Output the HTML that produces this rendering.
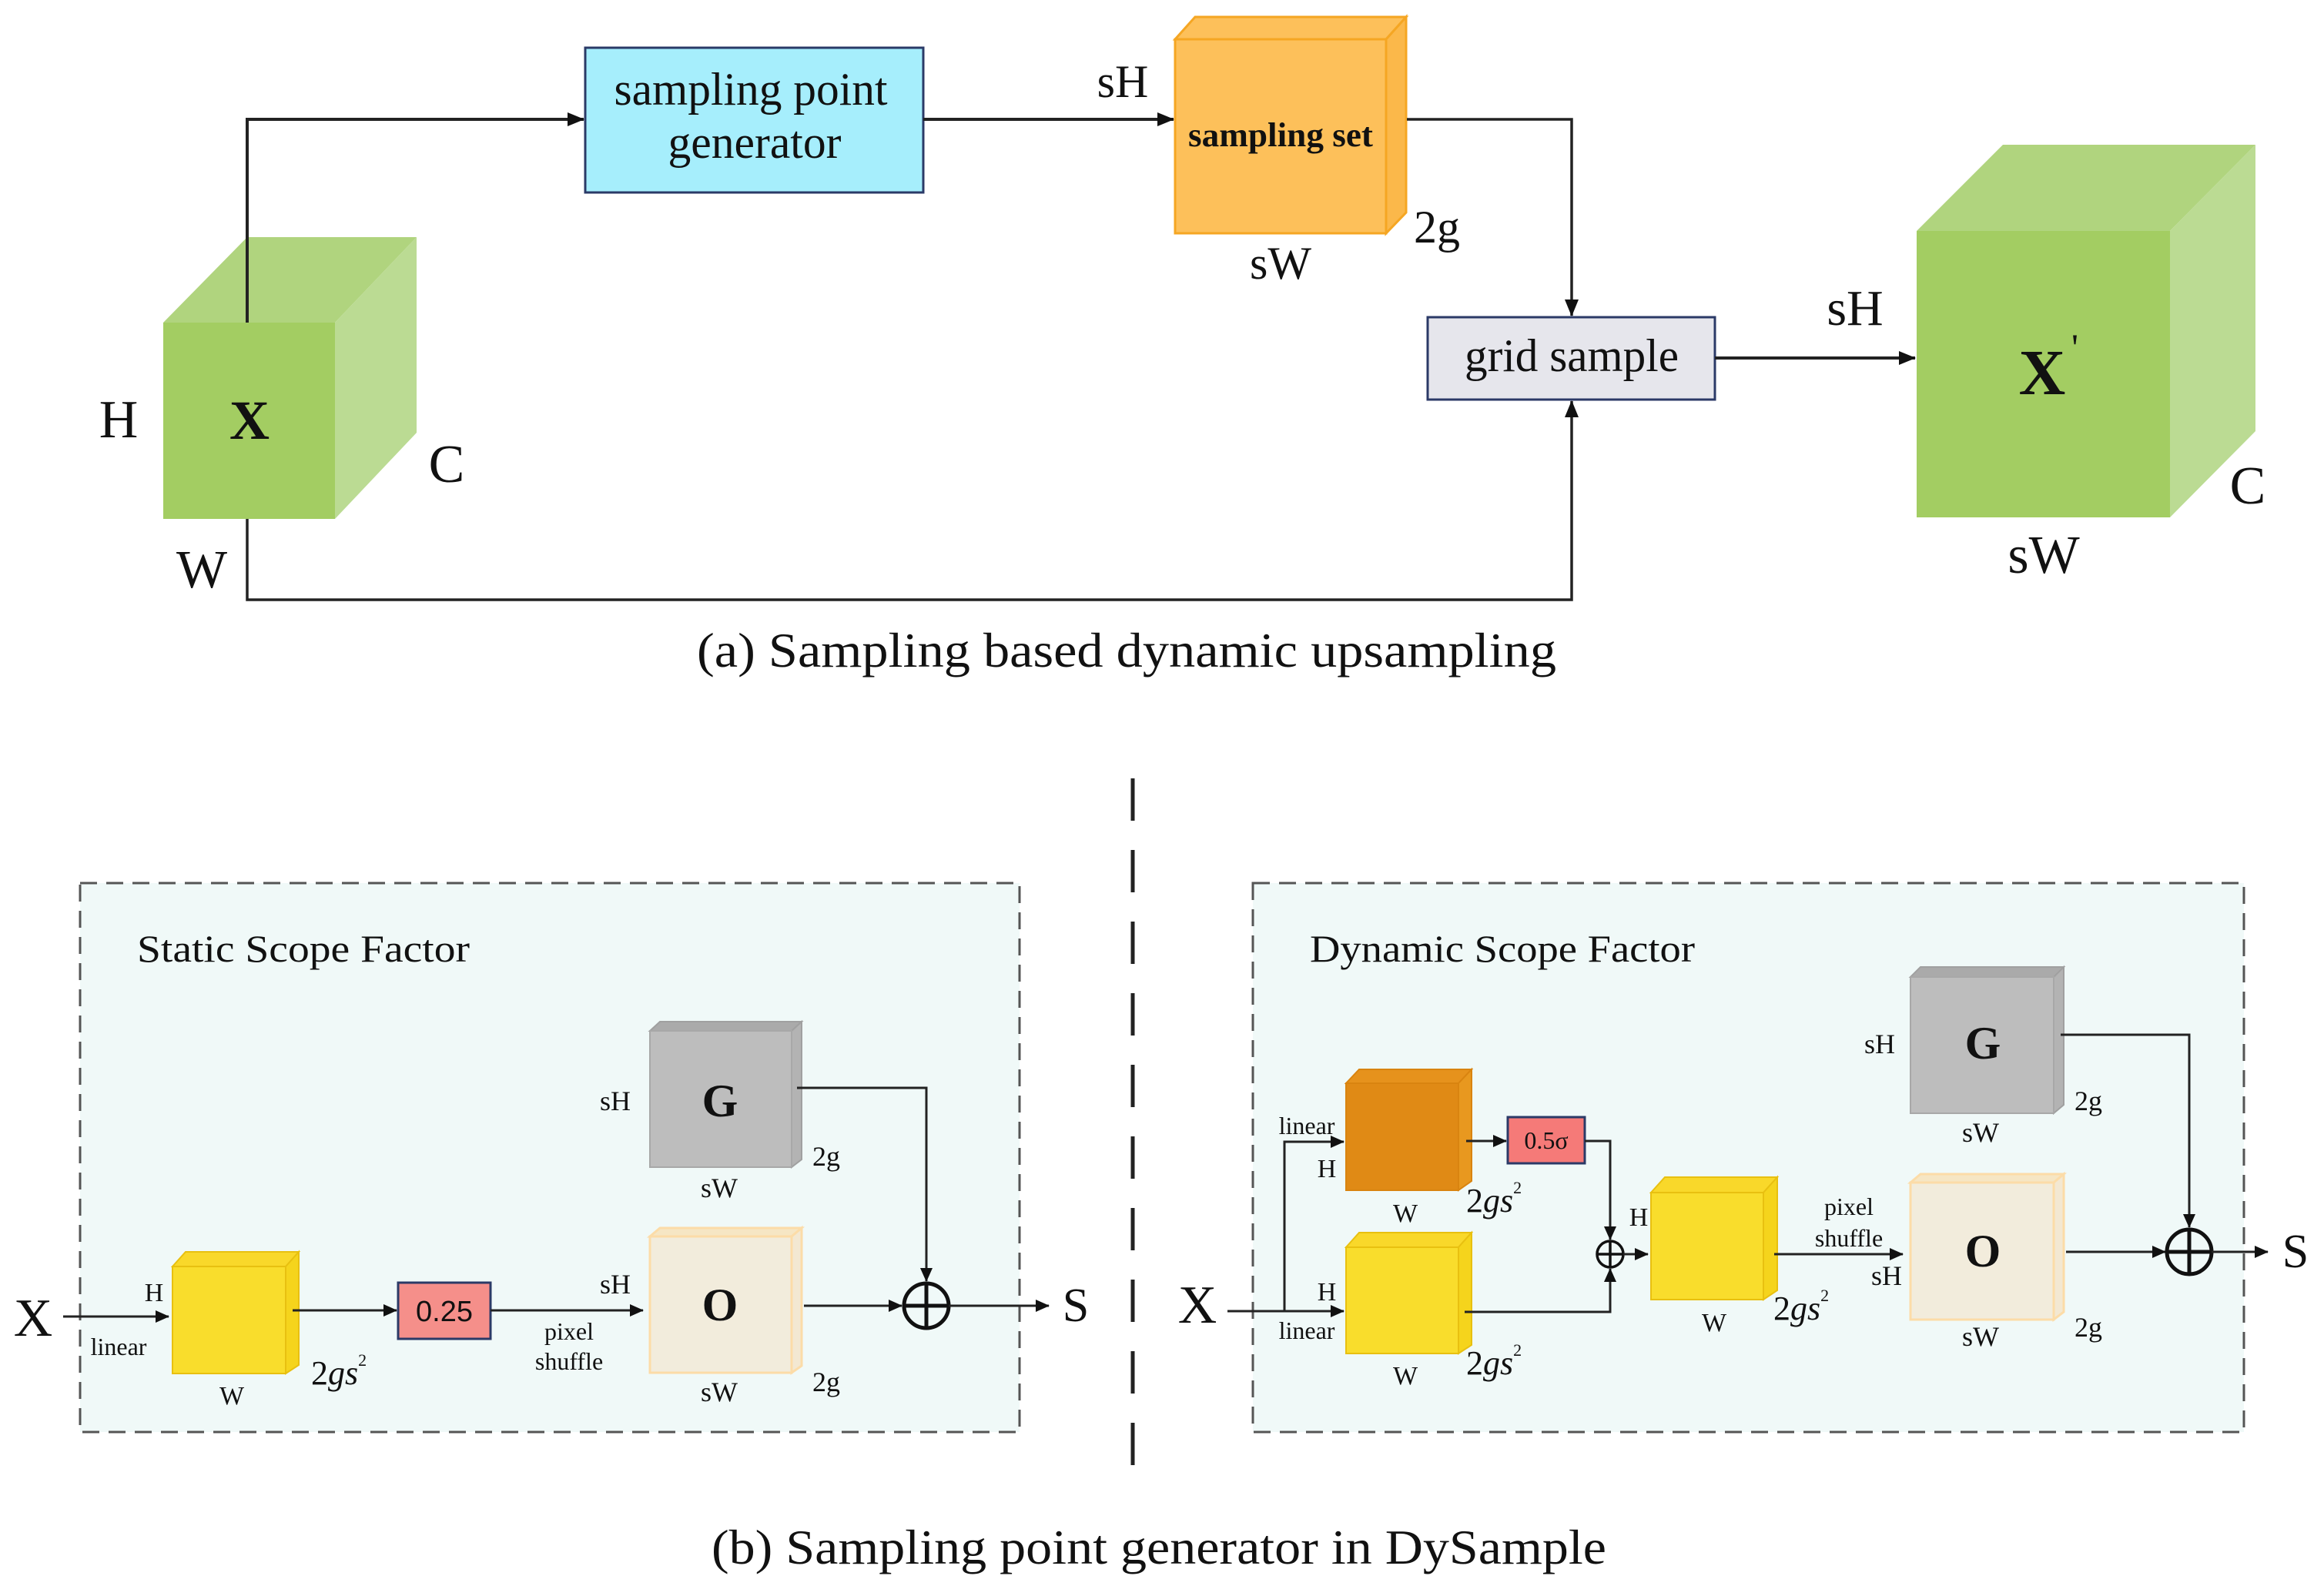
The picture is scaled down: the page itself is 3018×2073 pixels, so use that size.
<!DOCTYPE html>
<html><head><meta charset="utf-8"><style>
html,body{margin:0;padding:0;background:#fff;}
svg{display:block;}
text{font-family:"Liberation Serif",serif;fill:#111;}
</style></head><body>
<svg width="3018" height="2073" viewBox="0 0 3018 2073" xmlns="http://www.w3.org/2000/svg">
<defs>
<marker id="ah2" markerWidth="22" markerHeight="18" refX="21" refY="9" orient="auto" markerUnits="userSpaceOnUse" viewBox="0 0 22 18"><path d="M0,0 L22,9 L0,18 z" fill="#111"/></marker>
<marker id="ah3" markerWidth="18" markerHeight="16" refX="17" refY="8" orient="auto" markerUnits="userSpaceOnUse" viewBox="0 0 18 16"><path d="M0,0 L18,8 L0,16 z" fill="#111"/></marker>
</defs>

<!-- ===== (a) ===== -->
<polygon points="212,419 321,308 541,308 435,419" fill="#b0d47e"/>
<polygon points="435,419 541,308 541,562 435,674" fill="#bbdb93"/>
<rect x="212" y="419" width="223" height="255" fill="#a3cd62"/>
<text x="324" y="570" font-size="72" font-weight="bold" text-anchor="middle">X</text>
<text x="154" y="568" font-size="70" text-anchor="middle">H</text>
<text x="580" y="626" font-size="70" text-anchor="middle">C</text>
<text x="262" y="763" font-size="70" text-anchor="middle">W</text>

<polyline points="321,419 321,155 758,155" fill="none" stroke="#222" stroke-width="4" marker-end="url(#ah2)"/>
<polyline points="321,674 321,779 2041,779 2041,521" fill="none" stroke="#222" stroke-width="3.5" marker-end="url(#ah2)"/>

<rect x="760" y="62" width="439" height="188" fill="#a6eefc" stroke="#2b3a67" stroke-width="3"/>
<text x="975" y="136" font-size="60" text-anchor="middle" textLength="355" lengthAdjust="spacingAndGlyphs">sampling point</text>
<text x="980" y="205" font-size="60" text-anchor="middle" textLength="225" lengthAdjust="spacingAndGlyphs">generator</text>

<line x1="1199" y1="155" x2="1524" y2="155" stroke="#222" stroke-width="4" marker-end="url(#ah2)"/>
<text x="1458" y="126" font-size="60" text-anchor="middle">sH</text>

<polygon points="1526,51 1552,22 1826,22 1800,51" fill="#fdc05a" stroke="#f5a623" stroke-width="3"/>
<polygon points="1800,51 1826,22 1826,276 1800,303" fill="#fbb84a" stroke="#f5a623" stroke-width="3"/>
<rect x="1526" y="51" width="274" height="252" fill="#fdc05a" stroke="#f5a623" stroke-width="3"/>
<text x="1663" y="190" font-size="44" font-weight="bold" text-anchor="middle" textLength="240" lengthAdjust="spacingAndGlyphs">sampling set</text>
<text x="1866" y="315" font-size="60" text-anchor="middle">2g</text>
<text x="1663" y="362" font-size="60" text-anchor="middle">sW</text>

<polyline points="1827,155 2041,155 2041,410" fill="none" stroke="#222" stroke-width="3.5" marker-end="url(#ah2)"/>

<rect x="1854" y="412" width="373" height="107" fill="#e6e6ec" stroke="#2b3a67" stroke-width="3"/>
<text x="2041" y="482" font-size="60" text-anchor="middle" textLength="278" lengthAdjust="spacingAndGlyphs">grid sample</text>

<line x1="2227" y1="465" x2="2487" y2="465" stroke="#222" stroke-width="4" marker-end="url(#ah2)"/>
<text x="2409" y="422" font-size="66" text-anchor="middle">sH</text>

<polygon points="2489,300 2601,188 2929,188 2818,300" fill="#b0d47e"/>
<polygon points="2818,300 2929,188 2929,560 2818,672" fill="#bbdb93"/>
<rect x="2489" y="300" width="329" height="372" fill="#a3cd62"/>
<text x="2652" y="512" font-size="84" font-weight="bold" text-anchor="middle">X</text>
<text x="2690" y="468" font-size="50">'</text>
<text x="2919" y="654" font-size="70" text-anchor="middle">C</text>
<text x="2654" y="744" font-size="70" text-anchor="middle">sW</text>

<text x="1463" y="866" font-size="64" text-anchor="middle" textLength="1116" lengthAdjust="spacingAndGlyphs">(a) Sampling based dynamic upsampling</text>

<!-- ===== (b) ===== -->
<line x1="1471" y1="1011" x2="1471" y2="1935" stroke="#222" stroke-width="5" stroke-dasharray="55,38"/>

<rect x="104" y="1147" width="1220" height="713" fill="#f0f9f8" stroke="#555" stroke-width="3" stroke-dasharray="22,12"/>
<text x="178" y="1249" font-size="50" textLength="432" lengthAdjust="spacingAndGlyphs">Static Scope Factor</text>

<polygon points="844,1339 857,1327 1041,1327 1028,1339" fill="#aaa" stroke="#a0a0a0" stroke-width="2"/>
<polygon points="1028,1339 1041,1327 1041,1506 1028,1516" fill="#b3b3b3" stroke="#a0a0a0" stroke-width="2"/>
<rect x="844" y="1339" width="184" height="177" fill="#bdbdbd" stroke="#a8a8a8" stroke-width="2"/>
<text x="935" y="1450" font-size="60" font-weight="bold" text-anchor="middle">G</text>
<text x="799" y="1442" font-size="36" text-anchor="middle">sH</text>
<text x="1073" y="1514" font-size="36" text-anchor="middle">2g</text>
<text x="934" y="1555" font-size="36" text-anchor="middle">sW</text>
<polyline points="1035,1413 1203,1413 1203,1664" fill="none" stroke="#222" stroke-width="3" marker-end="url(#ah3)"/>

<polygon points="844,1606 857,1595 1041,1595 1028,1606" fill="#f6e6c4" stroke="#fcdca8" stroke-width="3"/>
<polygon points="1028,1606 1041,1595 1041,1774 1028,1783" fill="#f3e8d2" stroke="#fcdca8" stroke-width="3"/>
<rect x="844" y="1606" width="184" height="177" fill="#f2ecdc" stroke="#fcdca8" stroke-width="3"/>
<text x="935" y="1715" font-size="60" font-weight="bold" text-anchor="middle">O</text>
<text x="799" y="1680" font-size="36" text-anchor="middle">sH</text>
<text x="1073" y="1807" font-size="36" text-anchor="middle">2g</text>
<text x="934" y="1820" font-size="36" text-anchor="middle">sW</text>

<line x1="1044" y1="1696" x2="1171" y2="1696" stroke="#222" stroke-width="3" marker-end="url(#ah3)"/>
<circle cx="1203" cy="1696" r="29" fill="none" stroke="#111" stroke-width="5"/>
<line x1="1174" y1="1696" x2="1232" y2="1696" stroke="#111" stroke-width="5"/>
<line x1="1203" y1="1667" x2="1203" y2="1725" stroke="#111" stroke-width="5"/>
<line x1="1232" y1="1696" x2="1362" y2="1696" stroke="#222" stroke-width="3" marker-end="url(#ah3)"/>
<text x="1397" y="1716" font-size="62" text-anchor="middle">S</text>

<polygon points="224,1645 241,1626 388,1626 371,1645" fill="#f9d82a" stroke="#e8c010" stroke-width="2"/>
<polygon points="371,1645 388,1626 388,1773 371,1784" fill="#f5d41c" stroke="#e8c010" stroke-width="2"/>
<rect x="224" y="1645" width="147" height="139" fill="#f9dd2c" stroke="#e8c010" stroke-width="2"/>
<text x="43" y="1735" font-size="70" text-anchor="middle">X</text>
<line x1="82" y1="1710" x2="219" y2="1710" stroke="#222" stroke-width="3" marker-end="url(#ah3)"/>
<text x="200" y="1690" font-size="34" text-anchor="middle">H</text>
<text x="154" y="1760" font-size="32" text-anchor="middle">linear</text>
<text x="301" y="1824" font-size="34" text-anchor="middle">W</text>
<text x="404" y="1798" font-size="44">2<tspan font-style="italic">gs</tspan><tspan font-size="22" dy="-24">2</tspan></text>

<line x1="380" y1="1702" x2="515" y2="1702" stroke="#222" stroke-width="3" marker-end="url(#ah3)"/>
<rect x="517" y="1666" width="120" height="73" fill="#f58f8a" stroke="#2b3a67" stroke-width="3"/>
<text x="577" y="1716" font-size="38" text-anchor="middle" style="font-family:'Liberation Sans',sans-serif">0.25</text>
<line x1="637" y1="1702" x2="835" y2="1702" stroke="#222" stroke-width="3" marker-end="url(#ah3)"/>
<text x="739" y="1740" font-size="32" text-anchor="middle">pixel</text>
<text x="739" y="1779" font-size="32" text-anchor="middle">shuffle</text>

<rect x="1627" y="1147" width="1287" height="713" fill="#f0f9f8" stroke="#555" stroke-width="3" stroke-dasharray="22,12"/>
<text x="1701" y="1249" font-size="50" textLength="500" lengthAdjust="spacingAndGlyphs">Dynamic Scope Factor</text>

<polygon points="2481,1269 2494,1256 2680,1256 2667,1269" fill="#aaa" stroke="#a0a0a0" stroke-width="2"/>
<polygon points="2667,1269 2680,1256 2680,1435 2667,1446" fill="#b3b3b3" stroke="#a0a0a0" stroke-width="2"/>
<rect x="2481" y="1269" width="186" height="177" fill="#bdbdbd" stroke="#a8a8a8" stroke-width="2"/>
<text x="2575" y="1375" font-size="60" font-weight="bold" text-anchor="middle">G</text>
<text x="2441" y="1368" font-size="36" text-anchor="middle">sH</text>
<text x="2712" y="1442" font-size="36" text-anchor="middle">2g</text>
<text x="2572" y="1483" font-size="36" text-anchor="middle">sW</text>
<polyline points="2676,1344 2843,1344 2843,1594" fill="none" stroke="#222" stroke-width="3" marker-end="url(#ah3)"/>

<polygon points="2481,1536 2494,1525 2680,1525 2667,1536" fill="#f6e6c4" stroke="#fcdca8" stroke-width="3"/>
<polygon points="2667,1536 2680,1525 2680,1704 2667,1714" fill="#f3e8d2" stroke="#fcdca8" stroke-width="3"/>
<rect x="2481" y="1536" width="186" height="178" fill="#f2ecdc" stroke="#fcdca8" stroke-width="3"/>
<text x="2575" y="1645" font-size="60" font-weight="bold" text-anchor="middle">O</text>
<text x="2450" y="1669" font-size="36" text-anchor="middle">sH</text>
<text x="2712" y="1736" font-size="36" text-anchor="middle">2g</text>
<text x="2572" y="1748" font-size="36" text-anchor="middle">sW</text>

<line x1="2683" y1="1626" x2="2812" y2="1626" stroke="#222" stroke-width="3" marker-end="url(#ah3)"/>
<circle cx="2843" cy="1626" r="29" fill="none" stroke="#111" stroke-width="5"/>
<line x1="2814" y1="1626" x2="2872" y2="1626" stroke="#111" stroke-width="5"/>
<line x1="2843" y1="1597" x2="2843" y2="1655" stroke="#111" stroke-width="5"/>
<line x1="2872" y1="1626" x2="2945" y2="1626" stroke="#222" stroke-width="3" marker-end="url(#ah3)"/>
<text x="2981" y="1646" font-size="62" text-anchor="middle">S</text>

<text x="1555" y="1718" font-size="70" text-anchor="middle">X</text>
<line x1="1594" y1="1703" x2="1745" y2="1703" stroke="#222" stroke-width="3" marker-end="url(#ah3)"/>
<polyline points="1668,1703 1668,1483 1745,1483" fill="none" stroke="#222" stroke-width="3" marker-end="url(#ah3)"/>

<polygon points="1748,1407 1765,1389 1911,1389 1894,1407" fill="#e6921c" stroke="#d98410" stroke-width="2"/>
<polygon points="1894,1407 1911,1389 1911,1534 1894,1546" fill="#e8981f" stroke="#d98410" stroke-width="2"/>
<rect x="1748" y="1407" width="146" height="139" fill="#e08a15" stroke="#d98410" stroke-width="2"/>
<text x="1697" y="1473" font-size="32" text-anchor="middle">linear</text>
<text x="1723" y="1529" font-size="34" text-anchor="middle">H</text>
<text x="1825" y="1587" font-size="34" text-anchor="middle">W</text>
<text x="1904" y="1574" font-size="44">2<tspan font-style="italic">gs</tspan><tspan font-size="22" dy="-24">2</tspan></text>

<polygon points="1748,1620 1765,1601 1911,1601 1894,1620" fill="#f9d82a" stroke="#e8c010" stroke-width="2"/>
<polygon points="1894,1620 1911,1601 1911,1747 1894,1758" fill="#f5d41c" stroke="#e8c010" stroke-width="2"/>
<rect x="1748" y="1620" width="146" height="138" fill="#f9dd2c" stroke="#e8c010" stroke-width="2"/>
<text x="1723" y="1689" font-size="34" text-anchor="middle">H</text>
<text x="1697" y="1739" font-size="32" text-anchor="middle">linear</text>
<text x="1825" y="1798" font-size="34" text-anchor="middle">W</text>
<text x="1904" y="1785" font-size="44">2<tspan font-style="italic">gs</tspan><tspan font-size="22" dy="-24">2</tspan></text>

<line x1="1904" y1="1482" x2="1956" y2="1482" stroke="#222" stroke-width="3" marker-end="url(#ah3)"/>
<rect x="1958" y="1451" width="100" height="60" fill="#f57a78" stroke="#2b3a67" stroke-width="3"/>
<text x="2008" y="1492" font-size="32" text-anchor="middle">0.5σ</text>
<polyline points="2058,1482 2091,1482 2091,1610" fill="none" stroke="#222" stroke-width="3" marker-end="url(#ah3)"/>
<polyline points="1902,1704 2091,1704 2091,1648" fill="none" stroke="#222" stroke-width="3" marker-end="url(#ah3)"/>
<circle cx="2091" cy="1629" r="17" fill="none" stroke="#111" stroke-width="3.5"/>
<line x1="2074" y1="1629" x2="2108" y2="1629" stroke="#111" stroke-width="3.5"/>
<line x1="2091" y1="1612" x2="2091" y2="1646" stroke="#111" stroke-width="3.5"/>
<line x1="2108" y1="1629" x2="2140" y2="1629" stroke="#222" stroke-width="3" marker-end="url(#ah3)"/>

<polygon points="2144,1549 2162,1529 2308,1529 2290,1549" fill="#f9d82a" stroke="#e8c010" stroke-width="2"/>
<polygon points="2290,1549 2308,1529 2308,1676 2290,1688" fill="#f5d41c" stroke="#e8c010" stroke-width="2"/>
<rect x="2144" y="1549" width="146" height="139" fill="#f9dd2c" stroke="#e8c010" stroke-width="2"/>
<text x="2128" y="1592" font-size="34" text-anchor="middle">H</text>
<text x="2226" y="1729" font-size="34" text-anchor="middle">W</text>
<text x="2303" y="1714" font-size="44">2<tspan font-style="italic">gs</tspan><tspan font-size="22" dy="-24">2</tspan></text>

<line x1="2304" y1="1629" x2="2471" y2="1629" stroke="#222" stroke-width="3" marker-end="url(#ah3)"/>
<text x="2401" y="1578" font-size="32" text-anchor="middle">pixel</text>
<text x="2401" y="1619" font-size="32" text-anchor="middle">shuffle</text>

<text x="1505" y="2031" font-size="64" text-anchor="middle" textLength="1162" lengthAdjust="spacingAndGlyphs">(b) Sampling point generator in DySample</text>
</svg>
</body></html>
